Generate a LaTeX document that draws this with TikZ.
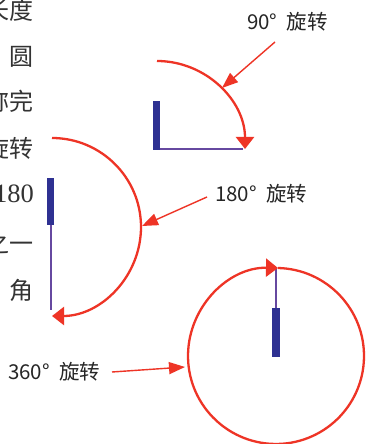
\documentclass[tikz,border=0pt]{standalone}
\usepackage{fontspec}
\setmainfont{Liberation Serif}
\newfontfamily\cjk{Noto Sans CJK SC}
\usetikzlibrary{arrows.meta}
\definecolor{rotred}{RGB}{238,52,38}
\definecolor{barblue}{RGB}{46,49,146}
\definecolor{thinline}{RGB}{102,72,160}
\begin{document}
\begin{tikzpicture}[x=1pt,y=1pt,
  bodytext/.style={font=\cjk\fontsize{24}{24}\selectfont, anchor=east, inner sep=0pt, text=black!80},
  numtext/.style={font=\fontsize{26.5}{26.5}\selectfont, anchor=east, inner sep=0pt, text=black!80},
  rotlabel/.style={font=\cjk\fontsize{20.5}{20.5}\selectfont, anchor=west, inner sep=0pt, text=black!85},
  rotarc/.style={draw=rotred, line width=2.3pt, -{Triangle[length=12pt,width=18pt]}},
  pointer/.style={draw=rotred, line width=1.4pt, -{Triangle[length=16pt,width=12pt]}},
  thickbar/.style={fill=barblue},
  thinbar/.style={draw=thinline, line width=1.5pt}
]
\useasboundingbox (0,0) rectangle (366,444);
\fill[white] (0,0) rectangle (366,444);

% left text fragments
\node[bodytext] (t1) at (34,434) {长度};
\node[bodytext] (t2) at (34,387) {圆};
\node[bodytext] (t3) at (34,343) {称完};
\node[bodytext] (t4) at (34,296) {旋转};
\node[numtext]  (t5) at (34,250) {180};
\node[bodytext] (t6) at (34,201) {之一};
\node[bodytext] (t7) at (34,154) {角};

% 90 degree
\draw[thinbar] (160,295) -- (243,295);
\fill[thickbar] (153,294) rectangle (160,343);
\draw[rotarc] (157,383) arc[start angle=90, end angle=0, radius=88];
\node[rotlabel] (l90) at (247,422) {90°\hspace{0.45em}旋转};
\coordinate (s90) at (275,402);
\coordinate (a90) at (222,356);
\draw[pointer] (s90) -- (a90);

% 180 degree
\draw[thinbar] (51,219) -- (51,134);
\fill[thickbar] (47,219) rectangle (54,266);
\draw[rotarc] (52,306) arc[start angle=90, end angle=-90, radius=89];
\node[rotlabel] (l180) at (215,250) {180°\hspace{0.45em}旋转};
\coordinate (s180) at (207,247);
\coordinate (a180) at (142,218);
\draw[pointer] (s180) -- (a180);

% 360 degree
\draw[thinbar] (276,136) -- (276,176);
\fill[thickbar] (272,87) rectangle (280,136);
\draw[rotarc] (278,176) arc[start angle=88.7, end angle=-271.3, radius=88];
\node[rotlabel] (l360) at (8,72) {360°\hspace{0.45em}旋转};
\coordinate (s360) at (112,72);
\coordinate (a360) at (185,77);
\draw[pointer] (s360) -- (a360);
\end{tikzpicture}
\end{document}
